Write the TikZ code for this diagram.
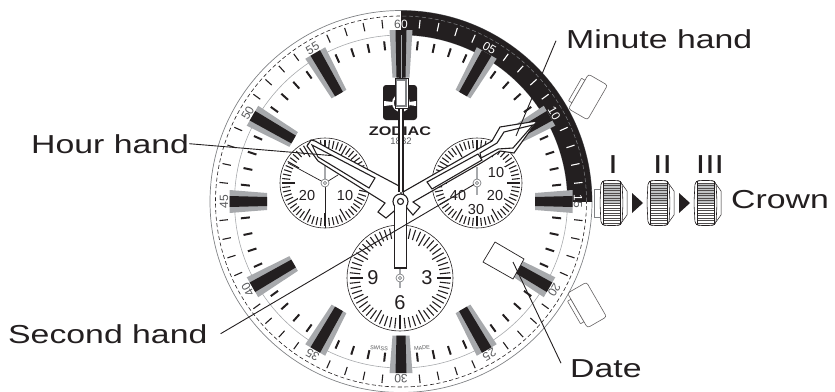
\documentclass[tikz,border=0pt]{standalone}
\usepackage{fontspec}
\usepackage{xcolor}
\usepackage{tikz}
\newfontfamily\wideface[FakeStretch=1.3]{Liberation Sans}
\newfontfamily\plainface{Liberation Sans}
\definecolor{ink}{HTML}{231F20}
\definecolor{steel}{HTML}{A7A9AC}
\definecolor{rim}{HTML}{808285}
\definecolor{numgray}{HTML}{58595B}
\tikzset{
  labeltext/.style={inner sep=0pt,text=ink,font=\wideface\fontsize{26}{30}\selectfont},
  leader/.style={draw=ink,line width=0.9pt},
  rimnum/.style={inner sep=0pt,text=numgray,font=\plainface\fontsize{12}{13}\selectfont},
  subnum/.style={inner sep=0pt,text=ink,font=\plainface\fontsize{14.5}{15}\selectfont},
  bignum/.style={inner sep=0pt,text=ink,font=\plainface\fontsize{20}{21}\selectfont},
  handline/.style={draw=ink,line width=1.1pt,fill=white,line join=miter},
  pivotstem/.style={draw=steel,line width=2.6pt},
  pushbutton/.style={draw=ink!70,line width=0.6pt,fill=white,rounded corners=2.5pt},
}
\begin{document}
\begin{tikzpicture}[x=1pt,y=-1pt]
\useasboundingbox (0,0) rectangle (835,391);
% case rings
\coordinate (hub) at (401,201.5);
\draw[rim,line width=0.7pt] (hub) circle[radius=191pt];
\draw[ink,line width=0.6pt,dash pattern=on 4pt off 2.5pt] (hub) circle[radius=185.5pt];
\draw[steel,line width=0.6pt] (hub) circle[radius=166.5pt];
\begin{scope}
  \clip (401,0) rectangle (610,201.5);
  \fill[ink,even odd rule] (hub) circle[radius=191pt] (hub) circle[radius=166.5pt];
  \draw[rim,line width=0.5pt,dash pattern=on 4pt off 2.5pt] (hub) circle[radius=185.5pt];
\end{scope}
% minute ticks
\foreach \a in {0,6,...,354} {
  \pgfmathtruncatemacro{\m}{mod(\a,30)}
  \ifnum\m=0\else
    \pgfmathtruncatemacro{\b}{\a<90 ? 1 : 0}
    \ifnum\b=1
      \draw[white,line width=1.1pt] ([shift={(\a-90:174)}]hub) -- ([shift={(\a-90:182.5)}]hub);
    \else
      \draw[ink,line width=1.1pt] ([shift={(\a-90:174)}]hub) -- ([shift={(\a-90:182.5)}]hub);
    \fi
    \draw[ink,line width=2pt] ([shift={(\a-90:152)}]hub) -- ([shift={(\a-90:161)}]hub);
  \fi
}
% hour markers
\foreach \a/\r in {0/124,30/124,60/124,90/134,120/124,150/124,180/134,210/124,240/124,270/134,300/124,330/124} {
  \begin{scope}[shift={(hub)},rotate=-\a]
    \fill[steel] (-11.5,-171.5) -- (11.5,-171.5) -- (8.5,-\r) -- (-8.5,-\r) -- cycle;
    \fill[ink] (-5.5,-171.5) -- (5.5,-171.5) -- (4.5,-\r) -- (-4.5,-\r) -- cycle;
  \end{scope}
}
% rim numbers
\foreach \a/\t in {30/05,60/10,120/20,150/25,180/30,210/35,240/40,270/45,300/50,330/55} {
  \pgfmathtruncatemacro{\b}{\a<90 ? 1 : 0}
  \ifnum\b=1
    \node[rimnum,text=white,rotate=-\a] (rim\a) at ([shift={(\a-90:177)}]hub) {\t};
  \else
    \node[rimnum,rotate=-\a] (rim\a) at ([shift={(\a-90:177)}]hub) {\t};
  \fi
}
\node[rimnum,anchor=east] (rim0a) at (401,24.5) {6};
\node[rimnum,text=white,anchor=west] (rim0b) at (401,24.5) {0};
\node[rimnum,text=white,rotate=-90,anchor=east] (rim90a) at (578,201.5) {1};
\node[rimnum,rotate=-90,anchor=west] (rim90b) at (578,201.5) {5};
\node[inner sep=0pt,text=numgray,font=\plainface\fontsize{5.5}{6}\selectfont,rotate=-5] (swiss) at (379,348) {SWISS};
\node[inner sep=0pt,text=numgray,font=\plainface\fontsize{5.5}{6}\selectfont,rotate=5] (made) at (422,348) {MADE};
% logo
\fill[ink,rounded corners=3pt] (383,85) rectangle (417,120);
\draw[white,line width=1.8pt] (401,103) circle[radius=8pt];
\fill[white] (384,101) -- (393,102) -- (393,105) -- (384,106) -- cycle;
\fill[white] (416,101) -- (409,102) -- (409,105) -- (416,106) -- cycle;
\node[inner sep=0pt,text=ink,font=\wideface\bfseries\fontsize{12.5}{14}\selectfont] (brand) at (400,131) {ZODIAC};
\node[inner sep=0pt,text=numgray,font=\plainface\fontsize{9.5}{10}\selectfont] (year) at (401,141) {1882};
% sub dials
\foreach \cx/\cy/\rr/\ra/\rb/\rc in {325/183/45/35/43/30,477/183/45/35/43/30,400/278/53/40/50.5/37} {
  \draw[ink,line width=0.6pt] (\cx,\cy) circle[radius=\rr pt];
  \foreach \a in {0,6,...,354} {
    \pgfmathtruncatemacro{\m}{mod(\a,30)}
    \ifnum\m=0
      \draw[ink,line width=1.1pt] ([shift={(\a-90:\rc)}]\cx,\cy) -- ([shift={(\a-90:\rb)}]\cx,\cy);
    \else
      \draw[ink,line width=1.1pt] ([shift={(\a-90:\ra)}]\cx,\cy) -- ([shift={(\a-90:\rb)}]\cx,\cy);
    \fi
  }
}
\foreach \x/\y/\t in {307/196/20,345/196/10,496/173/10,495/196/20,476/210/30,458/196/40} {
  \node[subnum,fill=white,inner sep=1pt] (sub\x\y) at (\x,\y) {\t};
}
\node[bignum,fill=white,inner sep=1pt] (nine) at (373,278) {9};
\node[bignum,fill=white,inner sep=1pt] (three) at (427,278) {3};
\node[bignum,fill=white,inner sep=1pt] (six) at (400,303) {6};
% sub dial hands
\draw[pivotstem] (325,163) -- (325,183);
\draw[ink,line width=0.9pt] (325,183) -- (325,228);
\draw[ink,line width=0.7pt] (288,163) -- (325,183) -- (338,175);
\draw[pivotstem] (477,167) -- (477,195);
\draw[pivotstem] (400,268) -- (400,288);
\foreach \cx/\cy in {325/183,477/183,400/278} {
  \draw[rim,line width=0.7pt,fill=white] (\cx,\cy) circle[radius=4pt];
  \draw[rim,line width=0.6pt] (\cx,\cy) circle[radius=1.6pt];
}
% date window
\draw[ink,line width=0.7pt,fill=white] (495,242) -- (524,259) -- (513,279) -- (483,262) -- cycle;
% hour hand
\draw[handline] (311,140) -- (307,146) -- (318,161) -- (385,203) -- (378,212) -- (386,218) -- (393,212) -- (401,205) -- (401,187) -- (333,151) -- (315,141) -- cycle;
\draw[handline] (312,145) -- (375,178) -- (369,188) -- (318,157) -- cycle;
% minute hand
\draw[handline] (537,121) -- (500,127) -- (492,141) -- (403,192) -- (407,208) -- (413,215) -- (420,207) -- (413,202) -- (481,163) -- (500,151) -- (514,153) -- cycle;
\draw[handline] (427,182) -- (478,154) -- (482,160) -- (432,189) -- cycle;
\draw[handline] (533,125) -- (504,132) -- (497,143) -- (480,153) -- (481,158) -- (498,149) -- (513,148) -- cycle;
% second hand
\draw[ink,line width=3.6pt] (401,35) -- (401,80);
\draw[steel,line width=1pt] (401,35) -- (401,80);
\fill[white] (399,105) rectangle (403,192);
\draw[ink,line width=1.2pt] (399,105) -- (399,192);
\draw[ink,line width=1.2pt] (403,105) -- (403,192);
\draw[ink,line width=0.7pt,fill=white] (395,78) rectangle (408,108);
\draw[rim,line width=1.4pt,fill=white] (396.5,80) rectangle (406,106);
\draw[ink,line width=1.1pt,fill=white] (394.8,201) rectangle (406.2,268);
\draw[ink,line width=1.1pt,fill=white] (400.5,201.5) circle[radius=7.5pt];
\fill[white] (395.3,203) rectangle (405.7,212);
\draw[ink,line width=1.1pt,fill=white] (400.5,201.5) circle[radius=3pt];
% crown positions
\foreach \dx/\n in {0/I,47/II,94/III} {
  \begin{scope}[xshift=\dx pt]
    \fill[steel!70] (603,183) rectangle (620,203);
    \foreach \yy in {183,185.5,...,223} {
      \draw[ink!80,line width=0.5pt] (603,\yy) -- (620,\yy);
    }
    \draw[ink,line width=0.6pt,rounded corners=3pt] (605,180.5) -- (601,182) -- (600,203) -- (601,224) -- (605,225.5) -- (618,225.5) -- (622,224) -- (623,203) -- (622,182) -- (618,180.5) -- cycle;
    \draw[ink,line width=0.6pt] (603,181) -- (603,225) (620,181) -- (620,225);
    \draw[ink,line width=0.5pt] (622,184) -- (627,191) -- (627,215) -- (622,222);
  \end{scope}
}
\draw[rim,line width=0.6pt] (600,189) -- (594,189) -- (594,217) -- (600,217);
\fill[ink] (632,193) -- (643,203) -- (632,213) -- cycle;
\fill[ink] (679,193) -- (690,203) -- (679,213) -- cycle;
% side buttons
\begin{scope}[shift={(588,97)},rotate=-30]
  \draw[pushbutton,rounded corners=0.5pt] (-15,-13) rectangle (-11,13);
  \draw[pushbutton] (-11,-20) rectangle (11,20);
\end{scope}
\begin{scope}[shift={(587,305)},rotate=30]
  \draw[pushbutton,rounded corners=0.5pt] (-15,-13) rectangle (-11,13);
  \draw[pushbutton] (-11,-20) rectangle (11,20);
\end{scope}
% labels
\node[labeltext,anchor=base west] (hourlabel) at (31,153) {Hour hand};
\node[labeltext,anchor=base west] (minutelabel) at (566,48) {Minute hand};
\node[labeltext,anchor=base west] (secondlabel) at (8,343) {Second hand};
\node[labeltext,anchor=base west] (datelabel) at (570,377) {Date};
\node[labeltext,anchor=base west] (crownlabel) at (731,208) {Crown};
\node[labeltext,anchor=base] (posone) at (613,173) {I};
\node[labeltext,anchor=base] (postwo) at (662.5,173) {II};
\node[labeltext,anchor=base] (posthree) at (710,173) {III};
% leaders
\coordinate (hourtip) at (333,155.7);
\coordinate (minutetip) at (516,136);
\coordinate (secondtip) at (474,184.5);
\coordinate (datetip) at (513,262);
\draw[leader] (hourlabel.east) -- (hourtip);
\draw[leader] ([xshift=-10pt,yshift=-2pt]minutelabel.west) -- (minutetip);
\draw[leader] ([xshift=13pt]secondlabel.east) -- (secondtip);
\draw[leader] ([xshift=-9pt,yshift=5pt]datelabel.west) -- (datetip);
\end{tikzpicture}
\end{document}
